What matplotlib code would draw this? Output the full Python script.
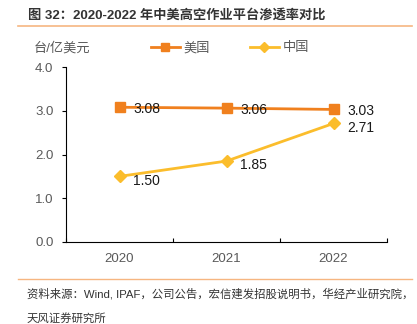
import matplotlib
matplotlib.use("Agg")
import matplotlib.pyplot as plt
from matplotlib.lines import Line2D

plt.rcParams['font.family'] = ['Liberation Sans', 'Noto Sans CJK SC', 'DejaVu Sans']

years = ['2020', '2021', '2022']
us = [3.08, 3.06, 3.03]
cn = [1.50, 1.85, 2.71]
yticks = [0.0, 1.0, 2.0, 3.0, 4.0]

c_us = '#F0801E'
c_cn = '#FBBD2C'
grey = '#595959'

fig = plt.figure(figsize=(4.17, 3.24), dpi=100)
W, H = 417, 324
ax = fig.add_axes([66 / W, 1 - 242 / H, (387 - 66) / W, (242 - 67) / H])

x = list(range(len(years)))
ax.plot(x, us, color=c_us, lw=2, marker='s', ms=7, zorder=3)
ax.plot(x, cn, color=c_cn, lw=2, marker='D', ms=6, zorder=3)
for i, v in enumerate(us):
    ax.annotate(f'{v:.2f}', (i, v), xytext=(10, -1), textcoords='offset points',
                ha='left', va='center', fontsize=10, color='#1a1a1a')
for i, v in enumerate(cn):
    ax.annotate(f'{v:.2f}', (i, v), xytext=(10, -3), textcoords='offset points',
                ha='left', va='center', fontsize=10, color='#1a1a1a')

ax.set_xlim(-0.5, 2.5)
ax.set_ylim(0, 4)
ax.set_yticks(yticks)
ax.set_yticklabels([f'{t:.1f}' for t in yticks])
ax.set_xticks([-0.5, 0.5, 1.5, 2.5], minor=False)
ax.set_xticklabels([])
ax.set_xticks(x, minor=True)
ax.set_xticklabels(years, minor=True)
ax.tick_params(axis='x', which='minor', length=0, pad=8, labelsize=9.5, labelcolor=grey)
ax.tick_params(axis='x', which='major', direction='in', length=3, color='black')
ax.tick_params(axis='y', direction='out', length=3, labelsize=9.5, labelcolor=grey, pad=6)
for s in ['top', 'right']:
    ax.spines[s].set_visible(False)
ax.spines['left'].set_color('black')
ax.spines['bottom'].set_color('black')
ax.spines['left'].set_linewidth(0.8)
ax.spines['bottom'].set_linewidth(0.8)

# title and rules
fig.text(28 / W, 1 - 15 / H, '图 32：2020-2022 年中美高空作业平台渗透率对比', fontsize=9.5,
         fontweight='bold', color='#333333', va='center', ha='left')
fig.add_artist(Line2D([18 / W, 412 / W], [1 - 26 / H, 1 - 26 / H], color='#F6B681', lw=1.2))
fig.add_artist(Line2D([18 / W, 412 / W], [1 - 279 / H, 1 - 279 / H], color='#F6B681', lw=1.0))

fig.text(34 / W, 1 - 48 / H, '台/亿美元', fontsize=9.5, color=grey, va='center', ha='left')

handles = [Line2D([], [], color=c_us, lw=2, marker='s', ms=6),
           Line2D([], [], color=c_cn, lw=2, marker='D', ms=5)]
fig.legend(handles, ['美国', '中国'], loc='center', bbox_to_anchor=(230 / W, 1 - 48 / H),
           ncol=2, frameon=False, fontsize=9.5, labelcolor=grey, handlelength=2.2,
           handletextpad=0.3, columnspacing=3.0)

fig.text(27 / W, 1 - 294 / H, '资料来源：Wind, IPAF，公司公告，宏信建发招股说明书，华经产业研究院，',
         fontsize=8.2, color='#333333', va='center', ha='left')
fig.text(27 / W, 1 - 318 / H, '天风证券研究所', fontsize=8.2, color='#333333', va='center', ha='left')

fig.savefig('out.png', dpi=100)
